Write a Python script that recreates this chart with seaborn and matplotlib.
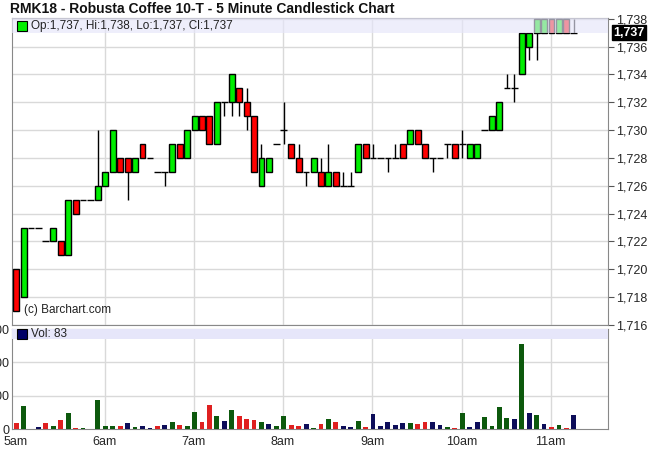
import matplotlib
matplotlib.use("Agg")
import matplotlib.pyplot as plt
import seaborn as sns
import pandas as pd
import numpy as np

opens  = [1720,1718,1723,1723,1722,1722,1722,1721,1725,1725,1725,1725,1726,1727,1728,1728,1727,1729,1728,1727,1727,1727,1729,1728,1730,1731,1731,1729,1732,1732,1733,1732,1731,1726,1727,1729,1730,1729,1728,1727,1727,1727,1726,1727,1726,1726,1727,1729,1728,1728,1728,1728,1729,1729,1730,1729,1728,1728,1729,1729,1729,1728,1728,1730,1730,1730,1733,1733,1734,1736,1737,1737,1738,1737,1738,1737]
closes = [1717,1723,1723,1723,1722,1723,1721,1725,1724,1725,1725,1726,1727,1730,1727,1727,1728,1728,1728,1727,1727,1729,1728,1730,1731,1730,1729,1732,1732,1734,1732,1731,1727,1728,1728,1729,1730,1728,1727,1727,1728,1726,1727,1726,1726,1726,1729,1728,1728,1728,1728,1728,1728,1730,1729,1728,1728,1728,1729,1728,1729,1729,1729,1730,1731,1732,1733,1733,1737,1737,1738,1738,1737,1738,1737,1737]
highs  = [1720,1723,1723,1723,1722,1723,1722,1725,1725,1725,1725,1730,1727,1730,1728,1728,1728,1729,1728,1727,1727,1729,1729,1730,1731,1731,1731,1732,1732,1734,1733,1733,1731,1729,1728,1729,1732,1729,1729,1727,1728,1728,1729,1727,1727,1727,1729,1729,1729,1728,1728,1729,1729,1730,1730,1729,1728,1728,1729,1729,1730,1729,1729,1730,1731,1732,1734,1734,1737,1737,1738,1738,1738,1738,1738,1738]
lows   = [1717,1718,1723,1723,1722,1722,1721,1721,1724,1725,1725,1725,1726,1727,1727,1725,1727,1728,1728,1727,1726,1727,1728,1728,1730,1730,1729,1729,1731,1731,1731,1730,1727,1726,1727,1729,1729,1728,1727,1726,1727,1726,1726,1726,1726,1726,1727,1728,1728,1728,1727,1728,1728,1729,1729,1728,1727,1728,1728,1728,1728,1728,1728,1730,1730,1730,1733,1732,1734,1735,1735,1737,1737,1737,1737,1737]
volumes = [34,138,0,12,34,18,54,96,6,6,0,174,18,18,18,36,12,18,6,18,24,42,24,18,102,42,144,78,48,114,78,60,54,42,30,18,78,24,18,30,6,30,60,42,18,12,48,12,90,18,42,24,36,36,30,42,42,24,12,6,96,12,42,72,18,132,66,60,510,96,84,30,12,24,6,83]
vol_dir = ["r","g","g","b","r","g","r","g","r","g",
           "g","g","g","g","r","b","g","b","b","r",
           "b","g","r","g","g","r","r","g","b","g",
           "r","r","r","g","b","g","g","r","r","b",
           "g","r","g","r","b","b","g","r","b","b",
           "b","b","b","g","r","r","b","b","g","r",
           "g","b","b","g","g","g","g","b","g","b",
           "g","b","r","g","r","b"]
hour_labels = ["5am","6am","7am","8am","9am","10am","11am"]
price_ticks = list(range(1716, 1739, 2))

n = min(len(opens), len(closes), len(highs), len(lows), len(volumes), len(vol_dir))

sns.set_style("white")
plt.rcParams['font.family'] = ['Liberation Sans', 'DejaVu Sans']

fig = plt.figure(figsize=(6.5, 4.7), dpi=100)
W, H = 650, 470
axp = fig.add_axes([12/W, 1-325/H, 596/W, 307/H])
axv = fig.add_axes([12/W, 1-429/H, 596/W, 100/H])

x = np.arange(n)
xlim = (-0.55, 79.6)
hour_pos = [12*k - 0.1 for k in range(len(hour_labels))]
grid_c = "#d9d9d9"

for ax in (axp, axv):
    for hp in hour_pos[1:]:
        ax.axvline(hp, color=grid_c, lw=1, zorder=0)
    for s in ax.spines.values():
        s.set_color("#888888")
for pt in price_ticks:
    axp.axhline(pt, color=grid_c, lw=1, zorder=0)

for i in range(n):
    o, c, h, l = opens[i], closes[i], highs[i], lows[i]
    axp.vlines(i, l, h, color="black", lw=1, zorder=2)
    if o == c:
        axp.hlines(o, i-0.45, i+0.45, color="black", lw=1, zorder=3)
    else:
        col = "#00ee00" if c > o else "#ff0000"
        axp.bar(i, c-o, bottom=o, width=0.8, color=col, edgecolor="black", lw=1, zorder=3)

axp.set_xlim(xlim)
axp.set_ylim(1716, 1738.05)
axp.axhspan(1737, 1738.05, color="#e6e6fa", alpha=0.65, zorder=4, lw=0)
axp.yaxis.tick_right()
axp.set_yticks(price_ticks)
axp.set_yticklabels([f"{v:,}" for v in price_ticks], fontsize=9)
axp.tick_params(axis="y", length=4, color="#555555", pad=2, right=True)
axp.set_xticks([])
axp.annotate("1,737", xy=(1.0, 1737), xycoords=("axes fraction", "data"),
             xytext=(4, 0), textcoords="offset points", va="center", ha="left",
             fontsize=9, color="white", fontweight="bold",
             bbox=dict(boxstyle="square,pad=0.1", fc="black", ec="black"))
axp.plot([0.017], [1737.5], marker="s", ms=7, mfc="#00ee00", mec="black", mew=0.8,
         transform=axp.get_yaxis_transform(), zorder=6, clip_on=False)
axp.text(0.032, 1737.5, "Op:1,737, Hi:1,738, Lo:1,737, Cl:1,737", transform=axp.get_yaxis_transform(),
         va="center", ha="left", fontsize=8.5, color="#222222", zorder=6)
axp.text(0.02, 0.04, "(c) Barchart.com", transform=axp.transAxes, fontsize=8.5, color="#222222")

vcol = {"g": "#006600", "r": "#ff0000", "b": "#000066"}
df = pd.DataFrame({"x": x, "vol": volumes[:n], "dir": vol_dir[:n]})
sns.barplot(data=df, x="x", y="vol", hue="dir", palette=vcol, native_scale=True,
            dodge=False, width=0.65, legend=False, ax=axv, zorder=3, linewidth=0)
for vt in [200, 400]:
    axv.axhline(vt, color=grid_c, lw=1, zorder=0)
axv.set_xlim(xlim)
axv.set_ylim(0, 600)
axv.axhspan(540, 600, color="#e6e6fa", zorder=4, lw=0)
axv.plot([0.017], [570], marker="s", ms=7, mfc="#000066", mec="black", mew=0.8,
         transform=axv.get_yaxis_transform(), zorder=6, clip_on=False)
axv.text(0.032, 570, "Vol: 83", transform=axv.get_yaxis_transform(), va="center", ha="left",
         fontsize=8.5, color="#222222", zorder=6)
axv.set_yticks([0, 200, 400, 600])
axv.set_yticklabels(["0", "200", "400", "600"], fontsize=9)
axv.tick_params(axis="y", length=0, pad=2)
axv.set_xticks(hour_pos)
axv.set_xticklabels(hour_labels, fontsize=9)
axv.tick_params(axis="x", length=4, pad=1)
axv.set_xlabel("")
axv.set_ylabel("")

fig.text(10/W, 1-9/H, "RMK18 - Robusta Coffee 10-T - 5 Minute Candlestick Chart",
         fontsize=10, fontweight="bold", color="#111111", va="center", ha="left")
fig.savefig("out.png", dpi=100)
